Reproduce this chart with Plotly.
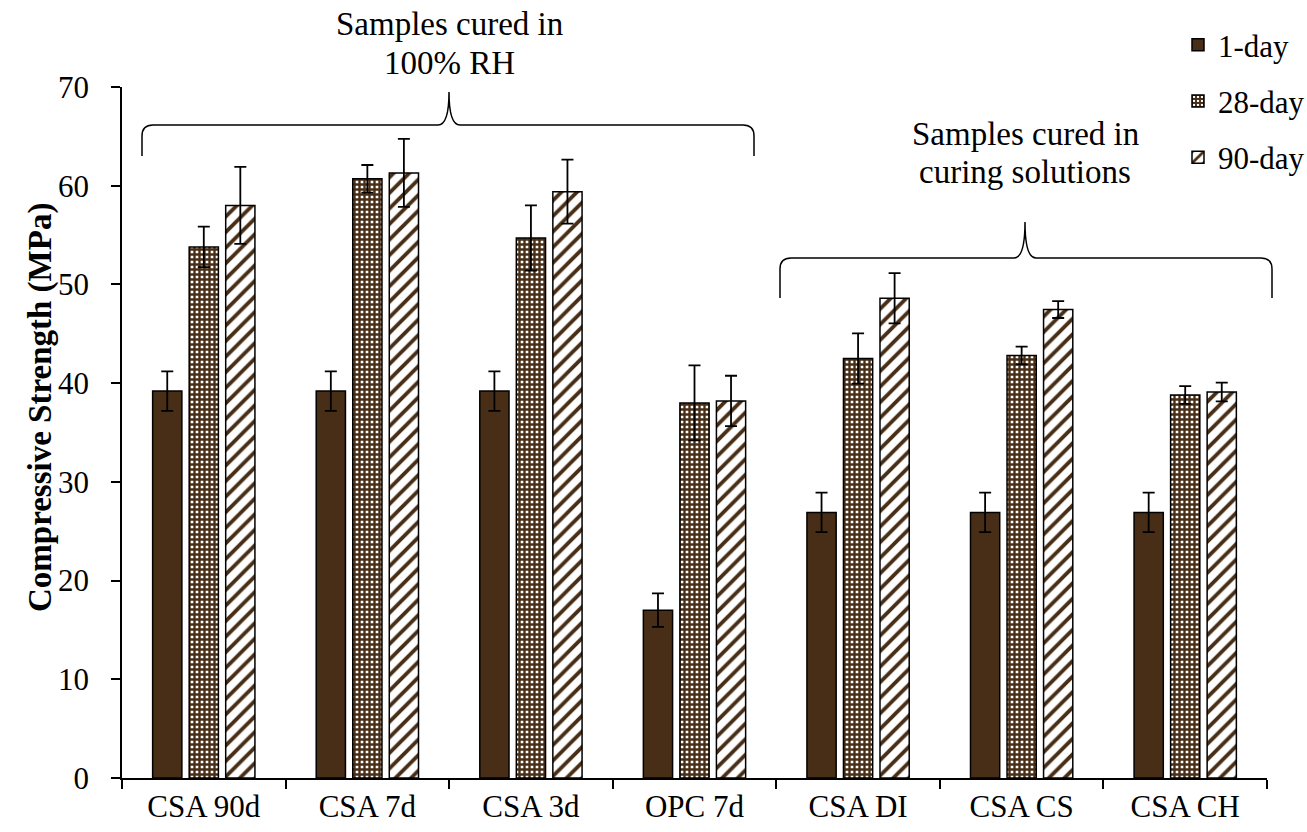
import plotly.graph_objects as go

# Compressive strength of CSA / OPC mortars under different curing regimes
categories = ["CSA 90d", "CSA 7d", "CSA 3d", "OPC 7d", "CSA DI", "CSA CS", "CSA CH"]

day1 = [39.2, 39.2, 39.2, 17.0, 26.9, 26.9, 26.9]
day1_err = [2.0, 2.0, 2.0, 1.7, 2.0, 2.0, 2.0]

day28 = [53.8, 60.7, 54.7, 38.0, 42.5, 42.8, 38.8]
day28_err = [2.05, 1.4, 3.3, 3.8, 2.55, 0.9, 0.9]

day90 = [58.0, 61.3, 59.4, 38.2, 48.6, 47.45, 39.1]
day90_err = [3.9, 3.45, 3.25, 2.55, 2.55, 0.85, 0.95]

BROWN = "#482e16"
FONT = "Liberation Serif"

W, H = 1307, 832
ML, MR, MT, MB = 122, 40, 87, 54
PW, PH = W - ML - MR, H - MT - MB


def px_to_paper(px, py):
    return (px - ML) / PW, (H - MB - py) / PH


def err(vals):
    return dict(type="data", array=vals, visible=True, color="black",
                thickness=1.8, width=6)


fig = go.Figure()

fig.add_trace(go.Bar(
    name="1-day", x=categories, y=day1, error_y=err(day1_err),
    marker=dict(color=BROWN, line=dict(color="black", width=1.5)),
    legendgroup="a",
))
fig.add_trace(go.Bar(
    name="28-day", x=categories, y=day28, error_y=err(day28_err),
    marker=dict(color=BROWN, line=dict(color="black", width=1.5),
                pattern=dict(shape="+", fgcolor=BROWN, bgcolor="white",
                             fgopacity=1, size=5, solidity=0.72,
                             fillmode="replace")),
    legendgroup="b",
))
fig.add_trace(go.Bar(
    name="90-day", x=categories, y=day90, error_y=err(day90_err),
    marker=dict(color="white", line=dict(color="black", width=1.5),
                pattern=dict(shape="/", fgcolor=BROWN, bgcolor="white",
                             fgopacity=1, size=11, solidity=0.35,
                             fillmode="replace")),
    legendgroup="c",
))


def brace(x0, x1, xc, y_bar, y_end, y_tip, rpx=11):
    """Curly brace opening downward, given in pixel positions."""
    X0, Yb = px_to_paper(x0, y_end)
    X1, _ = px_to_paper(x1, y_end)
    XC, Yh = px_to_paper(xc, y_bar)
    _, Yt = px_to_paper(xc, y_tip)
    rx = rpx / PW
    ry = rpx / PH
    return (
        f"M{X0},{Yb} L{X0},{Yh - ry} Q{X0},{Yh} {X0 + rx},{Yh} "
        f"L{XC - rx},{Yh} Q{XC},{Yh} {XC},{Yt} "
        f"Q{XC},{Yh} {XC + rx},{Yh} "
        f"L{X1 - rx},{Yh} Q{X1},{Yh} {X1},{Yh - ry} L{X1},{Yb}"
    )


shapes = [
    dict(type="path", xref="paper", yref="paper",
         path=brace(142, 754, 449, 125, 156, 92),
         line=dict(color="black", width=1.5)),
    dict(type="path", xref="paper", yref="paper",
         path=brace(780, 1272, 1025, 258, 298, 222),
         line=dict(color="black", width=1.5)),
]


def label(text, px, py, size=33, angle=0):
    x, y = px_to_paper(px, py)
    return dict(text=text, x=x, y=y, xref="paper", yref="paper",
                showarrow=False, xanchor="center", yanchor="middle",
                textangle=angle,
                font=dict(family=FONT, size=size, color="black"))


annotations = [
    label("Samples cured in", 449, 24),
    label("100% RH", 449, 63),
    label("Samples cured in", 1025, 134),
    label("curing solutions", 1025, 172),
    # y-axis title
    label("<b>Compressive Strength (MPa)</b>", 40, 408, size=33, angle=-90),
]

lx, ly = px_to_paper(1178, 18)

fig.update_layout(
    width=W, height=H,
    margin=dict(l=ML, r=MR, t=MT, b=MB, autoexpand=False),
    paper_bgcolor="white", plot_bgcolor="white",
    barmode="group", bargap=0.33, bargroupgap=0.2,
    font=dict(family=FONT, color="black", size=31),
    shapes=shapes, annotations=annotations,
    legend=dict(x=lx, y=ly, xanchor="left", yanchor="top",
                font=dict(family=FONT, size=31, color="black"),
                tracegroupgap=13, bgcolor="rgba(0,0,0,0)",
                traceorder="grouped"),
    xaxis=dict(
        showline=True, linecolor="black", linewidth=1.5,
        ticks="outside", tickson="boundaries", ticklen=9, tickwidth=1.5,
        tickcolor="black", showgrid=False,
        tickfont=dict(family=FONT, size=31, color="black"),
    ),
    yaxis=dict(
        range=[0, 70], dtick=10, showline=True, linecolor="black",
        linewidth=1.5, ticks="outside", ticklen=9, tickwidth=1.5,
        tickcolor="black", showgrid=False, zeroline=False,
        ticklabelstandoff=16,
        tickfont=dict(family=FONT, size=31, color="black"),
    ),
)

fig.write_html("out.html")
